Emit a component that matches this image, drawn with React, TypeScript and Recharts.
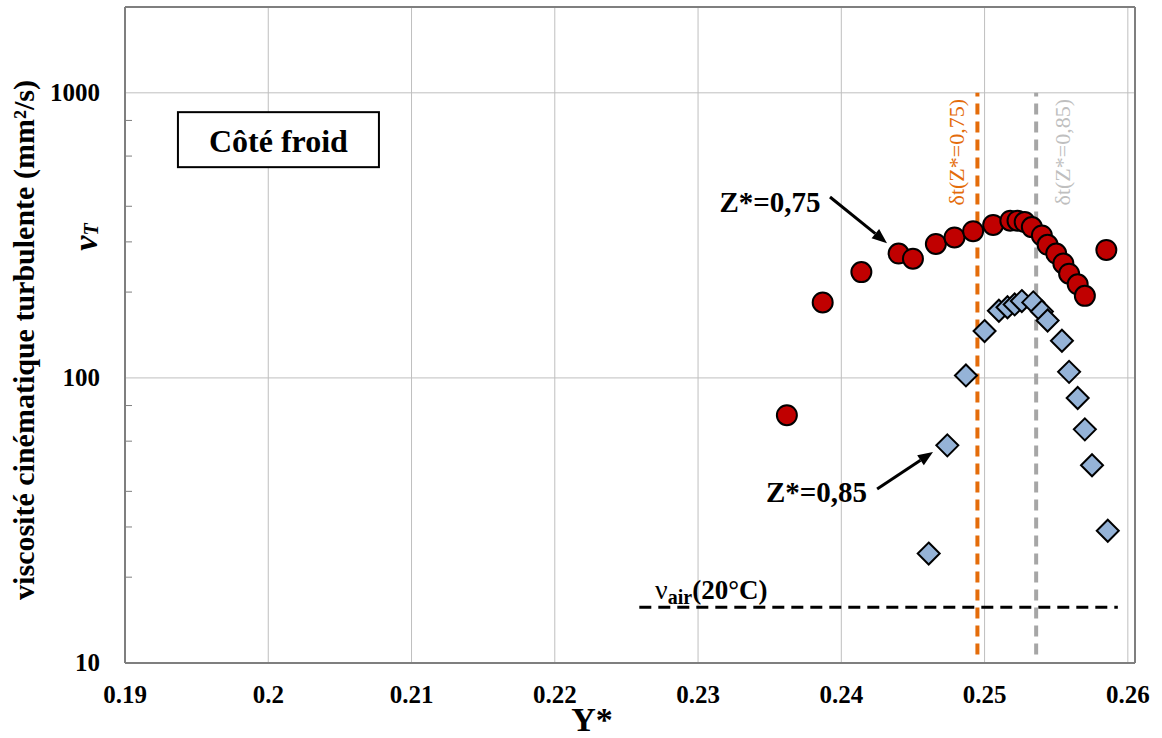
import React from 'react';
import { ScatterChart, Scatter, XAxis, YAxis, CartesianGrid, ReferenceLine, ReferenceDot } from 'recharts';

// Z* = 0,75 (cercles rouges)
const yStar075 = [0.2362, 0.2387, 0.2414, 0.2440, 0.2450, 0.2466, 0.2479, 0.2492, 0.2506, 0.2518, 0.2523, 0.2528, 0.2533, 0.2540, 0.2544, 0.2550, 0.2555, 0.2559, 0.2565, 0.2570, 0.2585];
const nuT075 = [74, 184, 235, 273, 262, 295, 311, 327, 344, 356, 356, 352, 338, 316, 293, 273, 252, 232, 213, 194, 281];

// Z* = 0,85 (losanges bleus)
const yStar085 = [0.2461, 0.2474, 0.2487, 0.2500, 0.2510, 0.2516, 0.2521, 0.2526, 0.2534, 0.2540, 0.2544, 0.2554, 0.2559, 0.2565, 0.2570, 0.2575, 0.2586];
const nuT085 = [24.2, 58, 102, 146, 172, 177, 181, 186, 184, 171, 159, 135, 105, 85, 66, 49.4, 29.1];

const xTicks = [0.19, 0.2, 0.21, 0.22, 0.23, 0.24, 0.25, 0.26];
const yTicks = [10, 20, 30, 40, 50, 60, 70, 80, 90, 100, 200, 300, 400, 500, 600, 700, 800, 900, 1000];
const yMajor = [10, 100, 1000];

const deltaT075 = 0.2495;
const deltaT085 = 0.2536;
const nuAir = 15.7;
const nuAirRange = [0.2259, 0.2593];

const serif = 'Liberation Serif, DejaVu Serif, serif';

const data075 = yStar075.map((x, i) => ({ x, y: nuT075[i] }));
const data085 = yStar085.map((x, i) => ({ x, y: nuT085[i] }));

const XTick = (props: any) => {
  const { x, y, payload } = props;
  return (
    <text x={x} y={y + 40} textAnchor="middle" style={{ fontFamily: serif }} fontWeight="bold" fontSize={25} fill="#000">
      {String(payload.value)}
    </text>
  );
};

const YTick = (props: any) => {
  const { x, y, payload } = props;
  const v = payload.value;
  if (yMajor.includes(v)) {
    return (
      <text x={x - 25} y={y} dy={8} textAnchor="end" style={{ fontFamily: serif }} fontWeight="bold" fontSize={25} fill="#000">
        {String(v)}
      </text>
    );
  }
  return <line x1={x} x2={x + 7} y1={y} y2={y} stroke="#7f7f7f" strokeWidth={1} />;
};

const Circle = (p: any) => (
  <circle cx={p.cx} cy={p.cy} r={10} fill="#c00000" stroke="#000" strokeWidth={2} />
);

const Diamond = (p: any) => {
  const s = 11;
  return (
    <polygon
      points={`${p.cx},${p.cy - s} ${p.cx + s},${p.cy} ${p.cx},${p.cy + s} ${p.cx - s},${p.cy}`}
      fill="#95b3d7"
      stroke="#000"
      strokeWidth={2}
    />
  );
};

const Arrow = (p: any) => {
  const { x1, y1, x2, y2 } = p;
  const ang = Math.atan2(y2 - y1, x2 - x1);
  const L = 15;
  const W = 6;
  const bx = x2 - L * Math.cos(ang);
  const by = y2 - L * Math.sin(ang);
  const px = -Math.sin(ang) * W;
  const py = Math.cos(ang) * W;
  return (
    <g>
      <line x1={x1} y1={y1} x2={bx} y2={by} stroke="#000" strokeWidth={3} />
      <polygon points={`${x2},${y2} ${bx + px},${by + py} ${bx - px},${by - py}`} fill="#000" />
    </g>
  );
};

const textAt = (content: string, size: number) => (p: any) => (
  <text x={p.cx} y={p.cy} textAnchor="middle" style={{ fontFamily: serif }} fontWeight="bold" fontSize={size} fill="#000">
    {content}
  </text>
);

const BoxLabel = (p: any) => (
  <g>
    <rect x={p.cx - 100.5} y={p.cy - 27.5} width={201} height={55} fill="#fff" stroke="#000" strokeWidth={2} />
    <text x={p.cx} y={p.cy + 12} textAnchor="middle" style={{ fontFamily: serif }} fontWeight="bold" fontSize={32} fill="#000">
      Côté froid
    </text>
  </g>
);

const NuAirLabel = (p: any) => (
  <text x={p.cx} y={p.cy - 8} style={{ fontFamily: serif }} fill="#000">
    <tspan fontSize={28}>ν</tspan>
    <tspan fontSize={20} fontWeight="bold" dy={5}>air</tspan>
    <tspan fontSize={27} fontWeight="bold" dy={-5}>(20°C)</tspan>
  </text>
);

const DeltaLabel = (label: string, color: string, dx: number) => (p: any) => (
  <text
    transform={`translate(${p.cx + dx},${p.cy}) rotate(-90)`}
    textAnchor="middle"
    dominantBaseline="central"
    style={{ fontFamily: serif }}
    fontSize={22}
    fill={color}
  >
    {label}
  </text>
);

export default function App() {
  return (
    <div style={{ position: 'absolute', left: 0, top: 0, width: 1162, height: 738, background: '#fff' }}>
      <ScatterChart width={1162} height={738} margin={{ top: 7, right: 27, left: 0, bottom: 0 }}>
        <CartesianGrid horizontal={false} stroke="#bfbfbf" strokeWidth={1} />
        <XAxis
          type="number"
          dataKey="x"
          domain={[0.19, 0.2605]}
          ticks={xTicks}
          allowDataOverflow
          height={75}
          tickSize={0}
          tickMargin={0}
          tick={<XTick />}
          axisLine={{ stroke: '#7f7f7f', strokeWidth: 2 }}
        />
        <YAxis
          type="number"
          dataKey="y"
          scale="log"
          domain={[10, 2000]}
          ticks={yTicks}
          allowDataOverflow
          width={125}
          tickSize={0}
          tickMargin={0}
          tick={<YTick />}
          axisLine={{ stroke: '#7f7f7f', strokeWidth: 2 }}
        />
        <ReferenceLine y={100} stroke="#bfbfbf" strokeWidth={1} />
        <ReferenceLine y={1000} stroke="#bfbfbf" strokeWidth={1} />
        <ReferenceLine y={2000} stroke="#7f7f7f" strokeWidth={2} ifOverflow="visible" />
        <ReferenceLine x={0.2605} stroke="#7f7f7f" strokeWidth={2} ifOverflow="visible" />

        <Scatter data={data075} shape={Circle} isAnimationActive={false} />
        <Scatter data={data085} shape={Diamond} isAnimationActive={false} />

        <ReferenceLine
          segment={[{ x: nuAirRange[0], y: nuAir }, { x: nuAirRange[1], y: nuAir }]}
          stroke="#000"
          strokeWidth={3}
          strokeDasharray="12 7"
        />
        <ReferenceLine
          segment={[{ x: deltaT075, y: 10.7 }, { x: deltaT075, y: 1000 }]}
          stroke="#e46c0a"
          strokeWidth={4}
          strokeDasharray="11 7"
        />
        <ReferenceLine
          segment={[{ x: deltaT085, y: 10.7 }, { x: deltaT085, y: 1000 }]}
          stroke="#a6a6a6"
          strokeWidth={4}
          strokeDasharray="11 7"
        />

        <ReferenceLine segment={[{ x: 0.23921, y: 431 }, { x: 0.24319, y: 297 }]} shape={Arrow} />
        <ReferenceLine segment={[{ x: 0.2425, y: 40.8 }, { x: 0.2464, y: 55 }]} shape={Arrow} />

        <ReferenceDot x={0.23502} y={382} r={0} shape={textAt('Z*=0,75', 29)} />
        <ReferenceDot x={0.23827} y={36.7} r={0} shape={textAt('Z*=0,85', 29)} />
        <ReferenceDot x={0.20071} y={685} r={0} shape={BoxLabel} />
        <ReferenceDot x={0.227} y={nuAir} r={0} shape={NuAirLabel} />
        <ReferenceDot x={deltaT075} y={619} r={0} shape={DeltaLabel('δt(Z*=0,75)', '#e46c0a', -21)} />
        <ReferenceDot x={deltaT085} y={619} r={0} shape={DeltaLabel('δt(Z*=0,85)', '#bfbfbf', 26)} />
      </ScatterChart>
      <svg width={1162} height={738} style={{ position: 'absolute', left: 0, top: 0, pointerEvents: 'none' }}>
        <text
          transform="translate(23,340) rotate(-90)"
          textAnchor="middle"
          dominantBaseline="central"
          style={{ fontFamily: serif }}
          fontWeight="bold"
          fontSize={30}
          fill="#000"
        >
          viscosité cinématique turbulente (mm²/s)
        </text>
        <text
          transform="translate(85,237) rotate(-90)"
          textAnchor="middle"
          dominantBaseline="central"
          style={{ fontFamily: serif }}
          fontWeight="bold"
          fontStyle="italic"
          fill="#000"
        >
          <tspan fontSize={34}>ν</tspan>
          <tspan fontSize={20} dy={6}>T</tspan>
        </text>
        <text x={592} y={731} textAnchor="middle" style={{ fontFamily: serif }} fontWeight="bold" fontSize={34} fill="#000">
          Y*
        </text>
      </svg>
    </div>
  );
}
